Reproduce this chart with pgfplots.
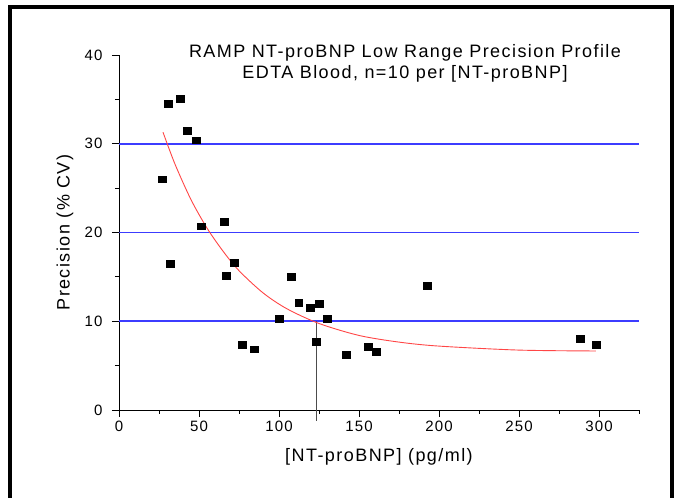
\documentclass[border=0pt]{standalone}
\usepackage{pgfplots}
\pgfplotsset{compat=1.18}
\usepackage{fontspec}
\setmainfont{Liberation Sans}[LetterSpace=8]
\definecolor{gridblue}{RGB}{60,60,255}
\definecolor{fitred}{RGB}{255,70,70}
\begin{document}
\begin{tikzpicture}
\useasboundingbox (0pt,0pt) rectangle (675pt,498pt);
\draw[line width=4pt] (10pt,-20pt) rectangle (672pt,491pt);
\begin{axis}[
  at={(119pt,88pt)}, anchor=south west,
  scale only axis, width=520pt, height=355pt,
  xmin=0, xmax=325, ymin=0, ymax=40,
  axis x line=bottom, axis y line=left,
  axis line style={-, line width=0.8pt},
  xtick={0,50,...,300}, minor xtick={25,75,...,325},
  ytick={0,10,...,40}, minor ytick={5,15,25,35},
  tick align=outside, major tick length=7pt, minor tick length=4pt,
  tick style={black, line width=0.8pt},
  xlabel={[NT-proBNP] (pg/ml)},
  ylabel={Precision (\% CV)},
  xlabel style={at={(axis description cs:0.5,-0.132)}, anchor=center},
  ylabel style={at={(axis description cs:-0.104,0.5)}, anchor=center},
  label style={font=\fontsize{18}{21}\selectfont},
  ticklabel style={font=\fontsize{15}{17}\selectfont},
  yticklabel style={xshift=-6pt},
  /pgf/number format/assume math mode=true,
  clip=false,
]
% reference lines
\addplot[gridblue, line width=1.6pt] coordinates {(0,10)(325,10)};
\addplot[gridblue, line width=1.6pt] coordinates {(0,20)(325,20)};
\addplot[gridblue, line width=1.6pt] coordinates {(0,30)(325,30)};
% drop line at the 10% CV crossing
\addplot[black!70, line width=0.8pt] coordinates {(123.5,-1.2)(123.5,10)};
% fitted curve
\addplot[fitred, line width=0.9pt, smooth] coordinates {
  (27.5,31.3)(35,27.7)(45,23.7)(55,20.5)(65,17.9)(75,15.7)(90,13.2)
  (105,11.4)(125,9.75)(150,8.4)(175,7.65)(200,7.2)(250,6.75)(298,6.65)};
% measured CVs
\addplot[only marks, mark=square*, mark size=3.3pt,
  mark options={xscale=1.2, fill=black, draw=black}] table {
x y
30.5 34.5
38.2 35.1
42.4 31.5
48.2 30.4
27.1 26.0
51.3 20.7
65.5 21.2
32.1 16.5
72.2 16.6
67.2 15.1
107.5 15.0
112.3 12.1
119.4 11.5
125.4 12.0
100.4 10.3
130.4 10.3
192.7 14.0
77.2 7.35
84.3 6.85
123.4 7.7
142.1 6.25
155.5 7.1
160.5 6.55
288.5 8.0
298.5 7.35
};
\end{axis}
\node[align=center, font=\fontsize{18}{21}\selectfont] at (405pt,435pt)
  {RAMP NT-proBNP Low Range Precision Profile\\EDTA Blood, n=10 per [NT-proBNP]};
\end{tikzpicture}
\end{document}
